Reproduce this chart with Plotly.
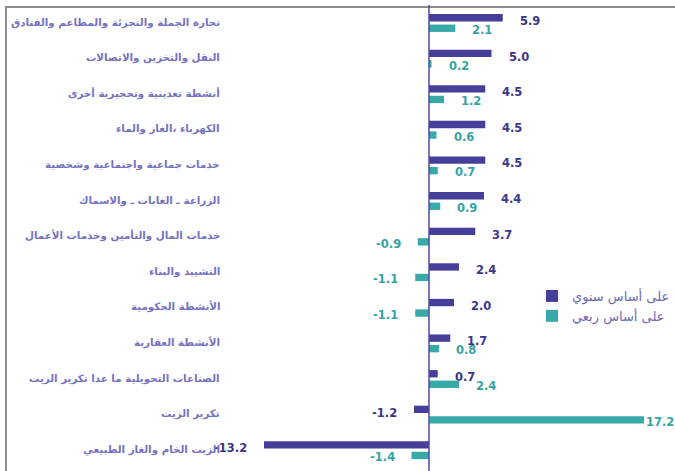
import plotly.graph_objects as go

categories = [
    "تجارة الجملة والتجزئة والمطاعم والفنادق",
    "النقل والتخزين والاتصالات",
    "أنشطة تعدينية وتحجيرية أخرى",
    "الكهرباء ،الغاز والماء",
    "خدمات جماعية واجتماعية وشخصية",
    "الزراعة ـ الغابات ـ والاسماك",
    "خدمات المال والتأمين وخدمات الأعمال",
    "التشييد والبناء",
    "الأنشطة الحكومية",
    "الأنشطة العقارية",
    "الصناعات التحويلية ما عدا تكرير الزيت",
    "تكرير الزيت",
    "الزيت الخام والغاز الطبيعي",
]
annual = [5.9, 5.0, 4.5, 4.5, 4.5, 4.4, 3.7, 2.4, 2.0, 1.7, 0.7, -1.2, -13.2]
quarterly = [2.1, 0.2, 1.2, 0.6, 0.7, 0.9, -0.9, -1.1, -1.1, 0.8, 2.4, 17.2, -1.4]
series_names = ["على أساس سنوي", "على أساس ربعي"]

C_ANNUAL = "#463f9a"
C_QUART = "#39a9a7"
C_ANNUAL_TXT = "#3b3788"
C_QUART_TXT = "#35a3a1"
C_CAT = "#7572c0"

W, H = 675, 471
px_per_unit = 12.5
zero_px = 429
x_range = [-zero_px / px_per_unit, (W - zero_px) / px_per_unit]
row_px = 35.6
first_center = 23
y_range = [12 + (H - (first_center + 12 * row_px)) / row_px, -first_center / row_px]

fig = go.Figure()
fig.add_trace(go.Bar(y=categories, x=annual, orientation="h", name=series_names[0],
                     marker=dict(color=C_ANNUAL, line=dict(width=0))))
fig.add_trace(go.Bar(y=categories, x=quarterly, orientation="h", name=series_names[1],
                     marker=dict(color=C_QUART, line=dict(width=0))))

annotations = []
num_font = dict(family="DejaVu Sans", size=11.5, weight="bold")
for cat, a, q in zip(categories, annual, quarterly):
    for val, col, ysh in ((a, C_ANNUAL_TXT, 2), (q, C_QUART_TXT, -7)):
        pos = val >= 0
        xs = 15 if abs(val) < 15 else 0
        annotations.append(dict(
            x=val, y=cat, xref="x", yref="y", text=f"{val:.1f}", showarrow=False,
            xanchor="left" if pos else "right", xshift=xs if pos else -xs, yshift=ysh,
            font=dict(num_font, color=col)))
    annotations.append(dict(
        x=222 / W, y=cat, xref="paper", yref="y", text=cat, showarrow=False,
        xanchor="right", yshift=1,
        font=dict(family="DejaVu Sans", size=10.3, weight="bold", color=C_CAT)))

shapes = [
    dict(type="rect", xref="paper", yref="paper", x0=6 / W, x1=1.02, y0=-0.02, y1=1 - 7 / H,
         line=dict(color="#8c8c8c", width=2), layer="below"),
    dict(type="line", xref="x", yref="paper", x0=0, x1=0, y0=0, y1=1 - 5 / H,
         line=dict(color="#4f4aa0", width=1.5)),
]

fig.update_layout(
    width=W, height=H, margin=dict(l=0, r=0, t=0, b=0, pad=0, autoexpand=False),
    paper_bgcolor="white", plot_bgcolor="white",
    barmode="group", bargap=0.41, bargroupgap=0.3,
    xaxis=dict(range=x_range, visible=False, fixedrange=True),
    yaxis=dict(range=y_range, visible=False, type="category", fixedrange=True),
    showlegend=True,
    legend=dict(x=532 / W, y=1 - 281 / H, xanchor="left", yanchor="top",
                font=dict(family="DejaVu Sans", size=13, color="#6d69b0"),
                bgcolor="rgba(0,0,0,0)", tracegroupgap=0, itemsizing="constant"),
    annotations=annotations, shapes=shapes,
)

fig.write_html("out.html", config={"responsive": False, "displayModeBar": False},
               post_script="document.body.style.margin='0';document.body.style.overflow='hidden';")
